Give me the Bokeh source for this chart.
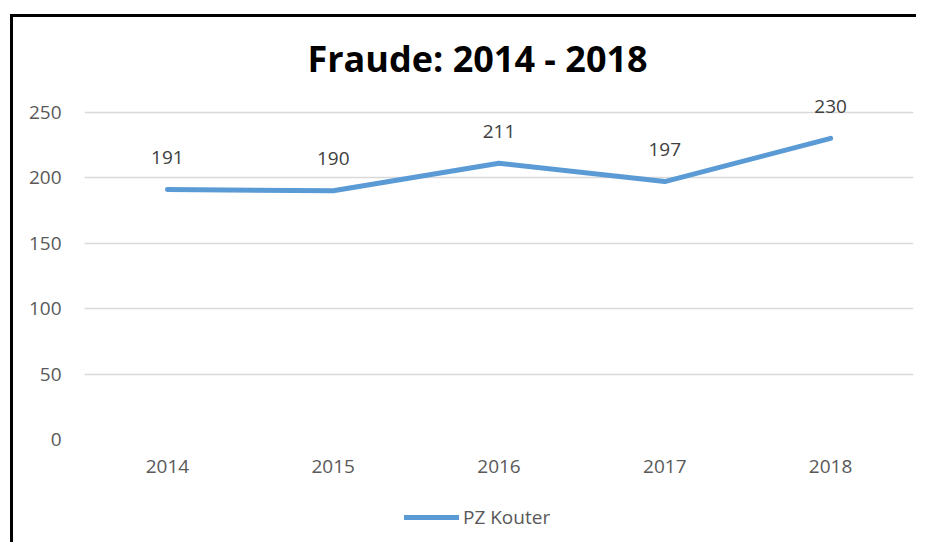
from bokeh.plotting import figure
from bokeh.layouts import column, row
from bokeh.models import (ColumnDataSource, FixedTicker, Legend, LegendItem, Range1d,
                          FactorRange, Spacer)
from bokeh.embed import file_html
from bokeh.resources import INLINE
from bokeh.core.properties import value

years = ["2014", "2015", "2016", "2017", "2018"]
counts = [191, 190, 211, 197, 230]
series_name = "PZ Kouter"
title_text = "Fraude: 2014 - 2018"
y_ticks = [0, 50, 100, 150, 200, 250]

LINE_COLOR = "#5B9BD5"

src = ColumnDataSource(dict(x=years, y=counts, label=[str(c) for c in counts]))

p = figure(x_range=FactorRange(*years), y_range=Range1d(0, 262),
           width=906, height=482, output_backend="svg", toolbar_location=None,
           min_border_left=71, min_border_right=6, min_border_top=79, min_border_bottom=60)
p.styles = {"border-left": "3px solid black", "border-top": "3px solid black"}

p.title.text = title_text
p.title.align = "left"
p.title.offset = 223
p.title.text_font = "Open Sans"
p.title.text_font_size = "36px"
p.title.text_font_style = "bold"
p.title.text_color = "#000000"
p.title.standoff = 28

r = p.line("x", "y", source=src, line_width=5, line_color=LINE_COLOR,
           line_cap="round", line_join="round")
p.text("x", "y", text="label", source=src, text_align="center", text_baseline="alphabetic",
       y_offset=-32, text_font=value("Open Sans"), text_font_size=value("19px"),
       text_color="#404040")

for ax in (p.xaxis, p.yaxis):
    ax.axis_line_color = None
    ax.major_tick_line_color = None
    ax.minor_tick_line_color = None
    ax.major_label_text_font = "Open Sans"
    ax.major_label_text_font_size = "19px"
    ax.major_label_text_color = "#595959"
p.xaxis.major_label_standoff = 14
p.yaxis.major_label_standoff = 17
p.yaxis.ticker = FixedTicker(ticks=y_ticks)

p.xgrid.grid_line_color = None
p.ygrid.grid_line_color = "#D9D9D9"
p.ygrid.grid_line_width = 1.5
p.outline_line_color = None

# legend strip below the chart (its frame is aligned with the chart frame)
lg = figure(width=906, height=46, output_backend="svg", toolbar_location=None,
            x_range=Range1d(0, 1), y_range=Range1d(0, 1),
            x_axis_location=None, y_axis_location=None,
            min_border_left=0, min_border_right=0, min_border_top=0, min_border_bottom=0)
lg.styles = {"border-left": "3px solid black"}
lg.xgrid.grid_line_color = None
lg.ygrid.grid_line_color = None
lg.outline_line_color = None
lr = lg.line(x=[5], y=[5], line_width=5, line_color=LINE_COLOR, line_cap="round")
legend = Legend(items=[LegendItem(label=series_name, renderers=[lr])],
                location=(320, 12), orientation="horizontal",
                glyph_width=55, glyph_height=20, label_standoff=4,
                padding=0, margin=0,
                border_line_color=None, background_fill_alpha=0,
                label_text_font="Open Sans", label_text_font_size="19px",
                label_text_color="#595959")
lg.add_layout(legend, "center")

page = column(Spacer(height=14), row(Spacer(width=10), column(p, lg)))
open("out.html", "w").write(file_html(page, INLINE))
